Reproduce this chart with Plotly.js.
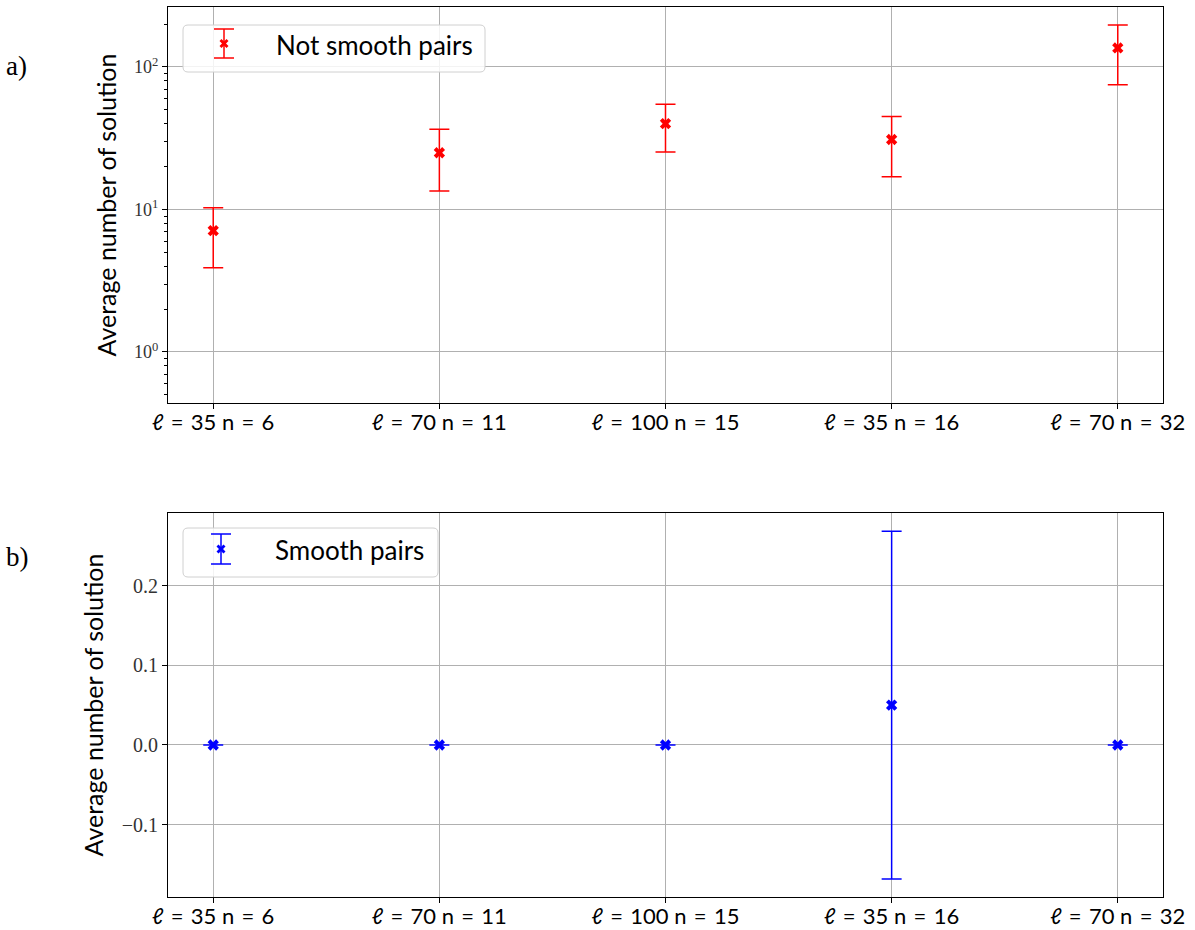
<!DOCTYPE html>
<html>
<head>
<meta charset="utf-8">
<script src="https://cdn.plot.ly/plotly-3.0.1.min.js"></script>
<style>html,body{margin:0;padding:0;background:#fff;}#chart{width:1195px;height:930px;}</style>
</head>
<body>
<div id="chart"></div>
<script>
// ---- data ----
const categories = ["\u2113 = 35 n = 6", "\u2113 = 70 n = 11", "\u2113 = 100 n = 15", "\u2113 = 35 n = 16", "\u2113 = 70 n = 32"];
const notSmoothMean = [7.1, 25, 40, 31, 136];
const notSmoothErr = [3.2, 11.5, 14.7, 14, 61];
const smoothMean = [0, 0, 0, 0.05, 0];
const smoothErr = [0, 0, 0, 0.218, 0];
const topTickVals = [1, 10, 100];
const topTickText = ["10<sup>0</sup>", "10<sup>1</sup>", "10<sup>2</sup>"];
const topMinorVals = [0.5, 0.6, 0.7, 0.8, 0.9, 2, 3, 4, 5, 6, 7, 8, 9, 20, 30, 40, 50, 60, 70, 80, 90, 200];
const bottomTickVals = [-0.1, 0, 0.1, 0.2];

// ---- helpers (pixel -> paper) ----
const L = 168, R = 1163, T = 7, B = 897;
const px = x => (x - L) / (R - L);
const py = y => (B - y) / (B - T);
const xIdx = categories.map((_, i) => i);
const labelText = categories.map(c => c.replace("\u2113", "<i>\u2113</i>").replace(/ = /g, "\u2004=\u2004"));

function roundRect(x0, y0, x1, y1, r) {
  const P = (x, y) => px(x) + "," + py(y);
  return "M" + P(x0 + r, y0) + " L" + P(x1 - r, y0) + " Q" + P(x1, y0) + " " + P(x1, y0 + r) +
    " L" + P(x1, y1 - r) + " Q" + P(x1, y1) + " " + P(x1 - r, y1) +
    " L" + P(x0 + r, y1) + " Q" + P(x0, y1) + " " + P(x0, y1 - r) +
    " L" + P(x0, y0 + r) + " Q" + P(x0, y0) + " " + P(x0 + r, y0) + " Z";
}
function xMarker(cx, cy, s, t) {
  const pts = [[-s, -s + t], [-s + t, -s], [0, -t], [s - t, -s], [s, -s + t], [t, 0], [s, s - t], [s - t, s], [0, t], [-s + t, s], [-s, s - t], [-t, 0]];
  return "M" + pts.map(p => px(cx + p[0]) + "," + py(cy + p[1])).join(" L") + " Z";
}
function legendShapes(box, ix, iy0, iy1, color) {
  const ln = {color: color, width: 1.5};
  const im = (iy0 + iy1) / 2;
  return [
    {type: "path", xref: "paper", yref: "paper", path: roundRect(box[0], box[1], box[2], box[3], 5),
     line: {color: "#d0d0d0", width: 1}, fillcolor: "rgba(255,255,255,0.85)", layer: "above"},
    {type: "line", xref: "paper", yref: "paper", x0: px(ix), x1: px(ix), y0: py(iy0), y1: py(iy1), line: ln, layer: "above"},
    {type: "line", xref: "paper", yref: "paper", x0: px(ix - 10), x1: px(ix + 10), y0: py(iy0), y1: py(iy0), line: ln, layer: "above"},
    {type: "line", xref: "paper", yref: "paper", x0: px(ix - 10), x1: px(ix + 10), y0: py(iy1), y1: py(iy1), line: ln, layer: "above"},
    {type: "path", xref: "paper", yref: "paper", path: xMarker(ix, im, 4.5, 2.0), line: {width: 0}, fillcolor: color, layer: "above"}
  ];
}

const sansFont = "Lato, 'Open Sans', sans-serif";
const serifFont = "'Liberation Serif', 'DejaVu Serif', serif";

const traces = [
  {x: xIdx, y: notSmoothMean, type: "scatter", mode: "markers", xaxis: "x", yaxis: "y",
   marker: {symbol: "x", size: 10, color: "#ff0000", line: {width: 0}},
   error_y: {type: "data", array: notSmoothErr, visible: true, color: "#ff0000", thickness: 1.5, width: 10},
   name: "Not smooth pairs", showlegend: false},
  {x: xIdx, y: smoothMean, type: "scatter", mode: "markers", xaxis: "x2", yaxis: "y2",
   marker: {symbol: "x", size: 10, color: "#0000ff", line: {width: 0}},
   error_y: {type: "data", array: smoothErr, visible: true, color: "#0000ff", thickness: 1.5, width: 10},
   name: "Smooth pairs", showlegend: false}
];

const xCommon = {
  range: [-0.2, 4.2], tickmode: "array", tickvals: xIdx, ticktext: labelText,
  showgrid: true, gridcolor: "#b0b0b0", gridwidth: 1, zeroline: false,
  showline: true, linecolor: "#000", linewidth: 1, mirror: true,
  ticks: "outside", ticklen: 5, tickcolor: "#000", tickwidth: 1,
  ticklabelstandoff: -5,
  tickfont: {family: sansFont, size: 22, color: "#000"}
};

const layout = {
  width: 1195, height: 930,
  margin: {l: L, r: 1195 - R, t: T, b: 930 - B},
  paper_bgcolor: "#fff", plot_bgcolor: "#fff",
  showlegend: false,
  xaxis: Object.assign({}, xCommon, {domain: [0, 1], anchor: "y"}),
  xaxis2: Object.assign({}, xCommon, {domain: [0, 1], anchor: "y2"}),
  yaxis: {
    type: "log", domain: [py(403), 1], anchor: "x",
    range: [-0.358, 2.421], tickmode: "array", tickvals: topTickVals, ticktext: topTickText,
    showgrid: true, gridcolor: "#b0b0b0", gridwidth: 1, zeroline: false,
    showline: true, linecolor: "#000", linewidth: 1, mirror: true,
    ticks: "outside", ticklen: 5, tickcolor: "#000",
    minor: {tickmode: "array", tickvals: topMinorVals, ticks: "outside", ticklen: 3, tickcolor: "#000", showgrid: false},
    tickfont: {family: serifFont, size: 18, color: "#333"},
    title: {text: "Average number of solution", font: {family: sansFont, size: 25, color: "#000"}, standoff: 10}
  },
  yaxis2: {
    domain: [0, py(513)], anchor: "x2",
    range: [-0.1907, 0.291], tickmode: "array", tickvals: bottomTickVals, tickformat: ".1f",
    showgrid: true, gridcolor: "#b0b0b0", gridwidth: 1, zeroline: false,
    showline: true, linecolor: "#000", linewidth: 1, mirror: true,
    ticks: "outside", ticklen: 5, tickcolor: "#000",
    tickfont: {family: serifFont, size: 20, color: "#333"},
    title: {text: "Average number of solution", font: {family: sansFont, size: 25, color: "#000"}, standoff: 10}
  },
  shapes: [].concat(
    legendShapes([183, 25, 485, 72], 224, 29, 58, "#ff0000"),
    legendShapes([183, 528, 438, 577], 221, 534, 564, "#0000ff")
  ),
  annotations: [
    {xref: "paper", yref: "paper", x: px(274), y: py(45), xanchor: "left", yanchor: "middle", showarrow: false,
     text: "Not smooth pairs", font: {family: sansFont, size: 26, color: "#000"}},
    {xref: "paper", yref: "paper", x: px(273), y: py(550), xanchor: "left", yanchor: "middle", showarrow: false,
     text: "Smooth pairs", font: {family: sansFont, size: 26, color: "#000"}},
    {xref: "paper", yref: "paper", x: px(4), y: py(66), xanchor: "left", yanchor: "middle", showarrow: false,
     text: "a)", font: {family: serifFont, size: 27, color: "#000"}},
    {xref: "paper", yref: "paper", x: px(4), y: py(557), xanchor: "left", yanchor: "middle", showarrow: false,
     text: "b)", font: {family: serifFont, size: 27, color: "#000"}}
  ]
};

Plotly.newPlot("chart", traces, layout, {staticPlot: true, displayModeBar: false});
</script>
</body>
</html>
